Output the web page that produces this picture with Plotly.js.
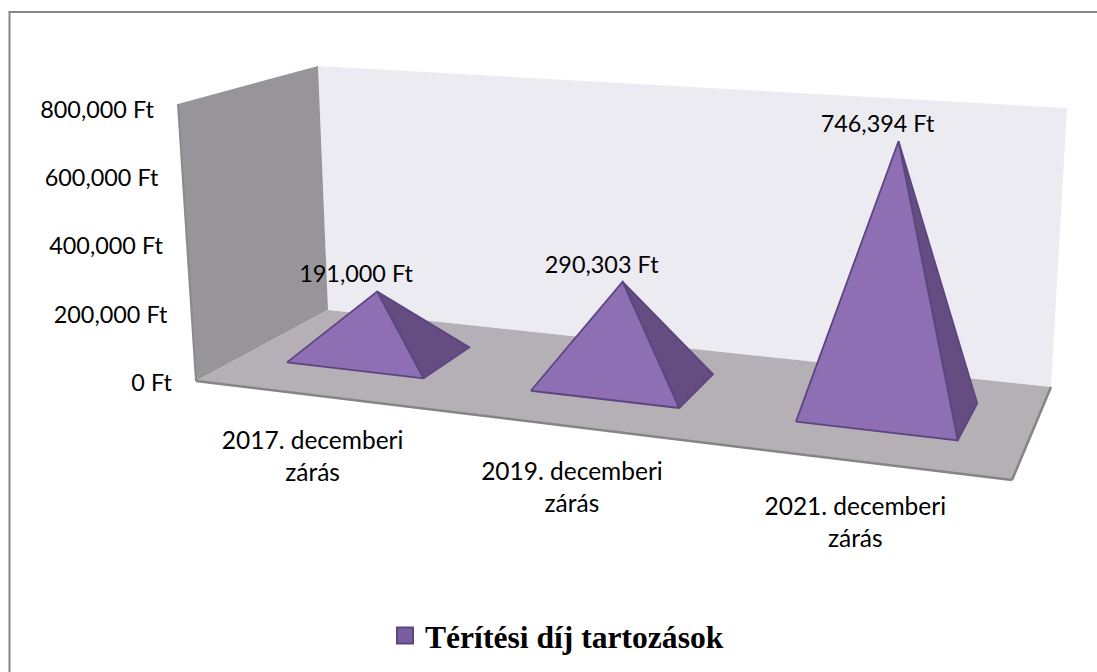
<!DOCTYPE html>
<html><head><meta charset="utf-8">
<script src="https://cdn.plot.ly/plotly-3.0.1.min.js"></script>
<style>html,body{margin:0;padding:0;background:#fff}#c{width:1097px;height:672px}</style></head>
<body><div id="c"></div>
<script>
// ---- data ----
const categories = [["2017. decemberi","zárás"],["2019. decemberi","zárás"],["2021. decemberi","zárás"]];
const values = [191000, 290303, 746394];
const valueLabels = ["191,000 Ft","290,303 Ft","746,394 Ft"];
const tickValues = [0, 200000, 400000, 600000, 800000];
const tickLabels = ["0 Ft","200,000 Ft","400,000 Ft","600,000 Ft","800,000 Ft"];
const seriesName = "Térítési díj tartozások";
const valueMax = 800000;

// ---- 3D box as seen on the page: corners [front-left, front-right, back-right, back-left] ----
const floorQuad = [[196,381],[1012,480],[1051,387],[328,310]];
const topQuad   = [[178,104],[1037,160],[1067,108],[318,66]];

function homography(q){
  const [[x0,y0],[x1,y1],[x2,y2],[x3,y3]] = q;
  const dx1=x1-x2, dx2=x3-x2, sx=x0-x1+x2-x3, dy1=y1-y2, dy2=y3-y2, sy=y0-y1+y2-y3;
  const det=dx1*dy2-dx2*dy1;
  const g=(sx*dy2-dx2*sy)/det, h=(dx1*sy-sx*dy1)/det;
  const a=x1-x0+g*x1, b=x3-x0+h*x3, d=y1-y0+g*y1, e=y3-y0+h*y3;
  return (s,t)=>{const w=g*s+h*t+1; return [(a*s+b*t+x0)/w,(d*s+e*t+y0)/w];};
}
const floorH = homography(floorQuad), topH = homography(topQuad);
const nCat = categories.length;
// u: category position (0..nCat), v: depth (0 front..1 back), val: value
function P(u,v,val){
  const f=floorH(u/nCat,v), t=topH(u/nCat,v), k=val/valueMax;
  return [f[0]+(t[0]-f[0])*k, f[1]+(t[1]-f[1])*k];
}
const halfW=0.285, halfD=0.205, depthC=0.515, centerU=0.485;

function poly(points,fill,line,lw,extra){
  const pts=points.concat([points[0]]);
  return Object.assign({type:'scatter',mode:lw?'lines':'none',x:pts.map(p=>p[0]),y:pts.map(p=>p[1]),
    fill:'toself',fillcolor:fill,line:{color:line||fill,width:lw||0},hoverinfo:'skip',showlegend:false},extra||{});
}
function seg(a,b,color,w){return {type:'scatter',mode:'lines',x:[a[0],b[0]],y:[a[1],b[1]],line:{color:color,width:w},hoverinfo:'skip',showlegend:false};}

const traces=[];
// walls and floor
traces.push(poly([P(0,1,0),P(nCat,1,0),P(nCat,1,valueMax),P(0,1,valueMax)],'#EDEBF2'));
traces.push(poly([P(0,0,0),P(0,1,0),P(0,1,valueMax),P(0,0,valueMax)],'#979599'));
traces.push(poly([P(0,0,0),P(nCat,0,0),P(nCat,1,0),P(0,1,0)],'#B4B0B5'));
traces.push(seg(P(0,0,0),P(0,0,valueMax),'#8A8A8C',2));
traces.push(seg(P(0,0,0),P(nCat,0,0),'#858585',2.5));
traces.push(seg(P(nCat,0,0),P(nCat,1,0),'#858585',2.5));

// pyramids
const edge='#5C4682';
values.forEach((val,i)=>{
  const c=i+centerU;
  const fl=P(c-halfW,depthC-halfD,0), fr=P(c+halfW,depthC-halfD,0), br=P(c+halfW,depthC+halfD,0);
  const apex=P(c,depthC,val);
  traces.push(poly([fr,br,apex],'#654D82',edge,1.8));
  traces.push(poly([fl,fr,apex],'#8F6FB3',edge,1.8));
});

// tick labels
const font={family:'Lato, Carlito, sans-serif',size:23.4,color:'#000'};
const tickPos=tickValues.map(t=>P(0,0,t));
traces.push({type:'scatter',mode:'text',x:tickPos.map(p=>p[0]-24),y:tickPos.map((p,i)=>p[1]+4+4*i/(tickValues.length-1)),
  text:tickLabels,textposition:'middle left',textfont:font,hoverinfo:'skip',showlegend:false});
// value labels
const apexPos=values.map((v,i)=>P(i+centerU,depthC,v));
traces.push({type:'scatter',mode:'text',x:apexPos.map(p=>p[0]-21),y:apexPos.map(p=>p[1]-15),
  text:valueLabels,textposition:'middle center',textfont:font,hoverinfo:'skip',showlegend:false});
// category labels (two lines each)
const catX=[],catY=[],catT=[];
categories.forEach((lines,i)=>{
  const p=P(i+0.5,0,0);
  lines.forEach((l,j)=>{catX.push(p[0]-5);catY.push(p[1]+47+j*32);catT.push(l);});
});
traces.push({type:'scatter',mode:'text',x:catX,y:catY,text:catT,textposition:'middle center',
  textfont:{family:font.family,size:24.5,color:'#000'},hoverinfo:'skip',showlegend:false});
// legend entry
traces.push({type:'scatter',mode:'markers',name:seriesName,x:[null],y:[null],
  marker:{symbol:'square',size:20,color:'#7B5EA0',line:{color:edge,width:2}},showlegend:true,hoverinfo:'skip'});

const layout={
  width:1097,height:672,margin:{l:0,r:0,t:0,b:0},paper_bgcolor:'#fff',plot_bgcolor:'#fff',
  xaxis:{range:[0,1097],visible:false,fixedrange:true},
  yaxis:{range:[672,0],visible:false,fixedrange:true},
  showlegend:true,
  legend:{x:385/1097,y:1-636/672,xanchor:'left',yanchor:'middle',bgcolor:'rgba(0,0,0,0)',
    font:{family:'"Liberation Serif", serif',size:31.6,color:'#000',weight:'bold'}},
  shapes:[
    {type:'line',xref:'paper',yref:'paper',x0:8.5/1097,x1:1,y0:1-12/672,y1:1-12/672,line:{color:'#868686',width:2},layer:'below'},
    {type:'line',xref:'paper',yref:'paper',x0:9.5/1097,x1:9.5/1097,y0:0,y1:1-12/672,line:{color:'#868686',width:2},layer:'below'}
  ]
};
Plotly.newPlot('c',traces,layout,{displayModeBar:false,staticPlot:true});
</script></body></html>
